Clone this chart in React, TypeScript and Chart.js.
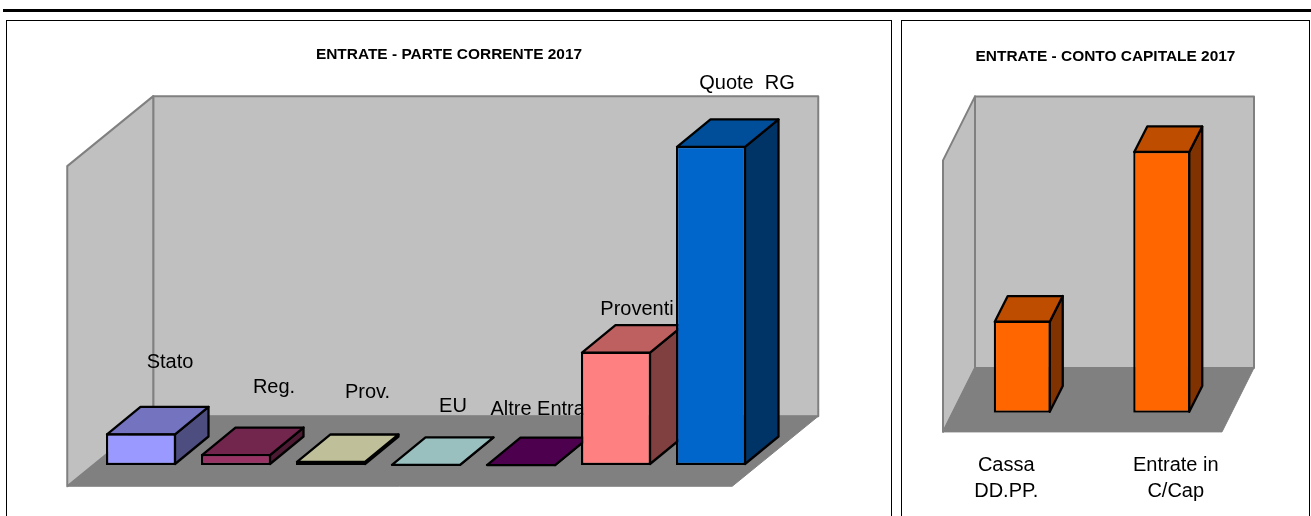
import React, { useEffect, useRef } from "react";
import { Chart, registerables } from "chart.js";

Chart.register(...registerables);

const FONT = '"Liberation Sans", Arial, sans-serif';

// --- data: ENTRATE - PARTE CORRENTE 2017
const correnteTitle = "ENTRATE - PARTE CORRENTE 2017";
const correnteCategories = ["Stato", "Reg.", "Prov.", "EU", "Altre Entrate", "Proventi", "Quote  RG"];
const correnteValues = [347, 120, 44, 12, 10, 1242, 3497];
const correnteMax = 3500;
const correnteFront = ["#9999FF", "#993366", "#FFFFCC", "#CCFFFF", "#660066", "#FF8080", "#0066CC"];
const correnteTop = ["#7373BF", "#73264D", "#BFBF99", "#99BFBF", "#4D004D", "#BF6060", "#004D99"];
const correnteSide = ["#4D4D80", "#4D1A33", "#808066", "#668080", "#330033", "#804040", "#003366"];

// --- data: ENTRATE - CONTO CAPITALE 2017
const capitaleTitle = "ENTRATE - CONTO CAPITALE 2017";
const capitaleCategories = [["Cassa", "DD.PP."], ["Entrate in", "C/Cap"]];
const capitaleValues = [102, 290];
const capitaleMax = 300;
const capitaleFront = ["#FF6600", "#FF6600"];
const capitaleTop = ["#BF4D00", "#BF4D00"];
const capitaleSide = ["#803300", "#803300"];

type Cfg = {
  title: string;
  labels: (string | string[])[];
  values: number[];
  max: number;
  front: string[];
  top: string[];
  side: string[];
  width: number;
  height: number;
  area: { left: number; right: number; top: number; bottom: number };
  titleTop: number;
  barPct: number;
  wall: { dx: number; dy: number };
  bar: { dx: number; dy: number };
  labelAnchor: "top" | "base";
  nudge: number[][];
};

function poly(ctx: CanvasRenderingContext2D, pts: number[][], fill: string, stroke: string, lw: number) {
  ctx.beginPath();
  pts.forEach((p, i) => (i ? ctx.lineTo(p[0], p[1]) : ctx.moveTo(p[0], p[1])));
  ctx.closePath();
  ctx.fillStyle = fill;
  ctx.fill();
  ctx.lineWidth = lw;
  ctx.strokeStyle = stroke;
  ctx.lineJoin = "round";
  ctx.stroke();
}

function makePlugin(cfg: Cfg) {
  return {
    id: "box3d",
    afterLayout(chart: any) {
      // the title is centred on the whole panel, not on the padded plot
      if (chart.titleBlock) {
        chart.titleBlock.left = 0;
        chart.titleBlock.right = chart.width;
      }
    },
    beforeDatasetsDraw(chart: any) {
      const ctx: CanvasRenderingContext2D = chart.ctx;
      const a = chart.chartArea;
      const W = cfg.wall;
      const B = cfg.bar;
      const gx = (W.dx - B.dx) / 2;
      const gy = (W.dy - B.dy) / 2;
      const fl = a.left - gx;
      const fr = a.right - gx;
      const fb = a.bottom + gy;
      const h = a.bottom - a.top + 0.8;
      const GREY = "#808080";
      const WALL = "#C0C0C0";
      ctx.save();
      // back wall
      poly(ctx, [[fl + W.dx, fb - W.dy - h], [fr + W.dx, fb - W.dy - h], [fr + W.dx, fb - W.dy], [fl + W.dx, fb - W.dy]], WALL, GREY, 2);
      // side wall
      poly(ctx, [[fl, fb], [fl, fb - h], [fl + W.dx, fb - W.dy - h], [fl + W.dx, fb - W.dy]], WALL, GREY, 2);
      // floor
      poly(ctx, [[fl, fb], [fr, fb], [fr + W.dx, fb - W.dy], [fl + W.dx, fb - W.dy]], GREY, GREY, 1);

      const meta = chart.getDatasetMeta(0);
      // labels sit behind the bars
      ctx.fillStyle = "#000";
      ctx.font = `20px ${FONT}`;
      ctx.textAlign = "center";
      ctx.textBaseline = "middle";
      meta.data.forEach((el: any, i: number) => {
        const p = el.getProps(["x", "y", "base"], true);
        const lines = ([] as string[]).concat(cfg.labels[i] as any);
        const anchor = cfg.labelAnchor === "top" ? p.y : p.base;
        lines.forEach((t, k) => ctx.fillText(t, p.x + cfg.nudge[i][0], anchor + cfg.nudge[i][1] + k * 26));
      });
      // top and side faces of each bar; the library draws the front faces over them
      meta.data.forEach((el: any, i: number) => {
        const p = el.getProps(["x", "y", "base", "width"], true);
        const x0 = p.x - p.width / 2 + 1;
        const x1 = p.x + p.width / 2 - 1;
        const y0 = p.y + 1;
        const y1 = Math.max(p.base - 1, y0);
        poly(ctx, [[x1, y0], [x1 + B.dx, y0 - B.dy], [x1 + B.dx, y1 - B.dy], [x1, y1]], cfg.side[i], "#000", 2.3);
        poly(ctx, [[x0, y0], [x1, y0], [x1 + B.dx, y0 - B.dy], [x0 + B.dx, y0 - B.dy]], cfg.top[i], "#000", 2.3);
      });
      ctx.restore();
    },
  };
}

const correnteCfg: Cfg = {
  title: correnteTitle,
  labels: correnteCategories,
  values: correnteValues,
  max: correnteMax,
  front: correnteFront,
  top: correnteTop,
  side: correnteSide,
  width: 884,
  height: 495,
  area: { left: 86.5, right: 751.5, top: 124.7, bottom: 444 },
  titleTop: 24.6,
  barPct: 70 / 95,
  wall: { dx: 86, dy: 70 },
  bar: { dx: 33.5, dy: 27.5 },
  labelAnchor: "top",
  nudge: [[29, -71], [38, -67], [36.5, -69], [27, -57.5], [25, -54.5], [21, -42], [36, -62]],
};

const capitaleCfg: Cfg = {
  title: capitaleTitle,
  labels: capitaleCategories,
  values: capitaleValues,
  max: capitaleMax,
  front: capitaleFront,
  top: capitaleTop,
  side: capitaleSide,
  width: 407,
  height: 495,
  area: { left: 50.5, right: 329.5, top: 121, bottom: 391.7 },
  titleTop: 26.3,
  barPct: 57 / 139.5,
  wall: { dx: 32, dy: 64 },
  bar: { dx: 13, dy: 25.6 },
  labelAnchor: "base",
  nudge: [[-16, 52.5], [14, 52.5]],
};

function Panel({ cfg, left, top, outerW }: { cfg: Cfg; left: number; top: number; outerW: number }) {
  const ref = useRef<HTMLCanvasElement>(null);
  useEffect(() => {
    const titleSize = 15.45;
    const titleLine = titleSize * 1.2;
    const chart = new Chart(ref.current as HTMLCanvasElement, {
      type: "bar",
      data: {
        labels: cfg.labels as any,
        datasets: [
          {
            data: cfg.values,
            backgroundColor: cfg.front,
            borderColor: "#000",
            borderWidth: 2.3,
            borderSkipped: false,
            inflateAmount: 0,
            barPercentage: cfg.barPct,
            categoryPercentage: 1,
          } as any,
        ],
      },
      options: {
        responsive: false,
        animation: false,
        devicePixelRatio: 1,
        layout: {
          padding: {
            left: cfg.area.left,
            right: cfg.width - cfg.area.right,
            top: 0,
            bottom: cfg.height - cfg.area.bottom,
          },
        },
        plugins: {
          legend: { display: false },
          tooltip: { enabled: false },
          title: {
            display: true,
            text: cfg.title,
            color: "#000",
            font: { family: FONT, size: titleSize, weight: "bold", lineHeight: 1.2 },
            padding: { top: cfg.titleTop, bottom: cfg.area.top - cfg.titleTop - titleLine },
          },
        },
        scales: {
          x: { display: false },
          y: { display: false, min: 0, max: cfg.max },
        },
      },
      plugins: [makePlugin(cfg) as any],
    });
    return () => chart.destroy();
  }, [cfg]);
  return (
    <div
      style={{
        position: "absolute",
        left,
        top,
        width: outerW,
        height: 540,
        boxSizing: "border-box",
        border: "1px solid #000",
        background: "#fff",
      }}
    >
      <canvas ref={ref} width={cfg.width} height={cfg.height} style={{ display: "block" }} />
    </div>
  );
}

export default function App() {
  return (
    <div style={{ position: "fixed", inset: 0, overflow: "hidden", background: "#fff" }}>
      <div style={{ position: "absolute", left: 3, right: 0, top: 9, height: 3, background: "#000" }} />
      <Panel cfg={correnteCfg} left={6} top={20} outerW={886} />
      <Panel cfg={capitaleCfg} left={901} top={20} outerW={409} />
    </div>
  );
}
